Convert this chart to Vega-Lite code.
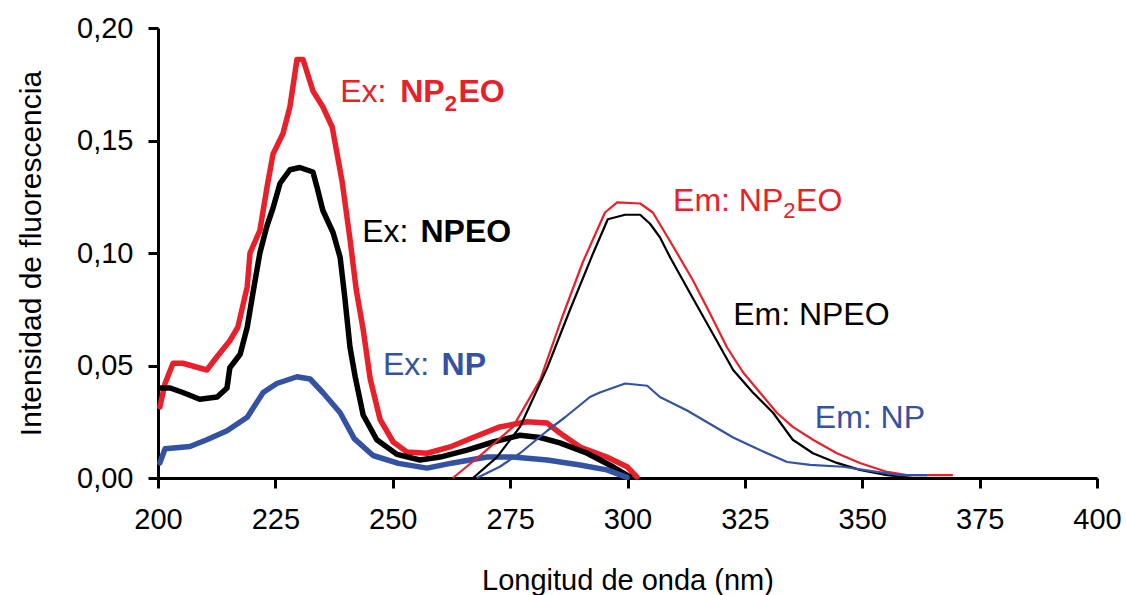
{
  "$schema": "https://vega.github.io/schema/vega-lite/v6.json",
  "width": 939,
  "height": 450,
  "autosize": {"type": "none"},
  "padding": {"left": 158, "top": 28, "right": 29, "bottom": 117},
  "background": "white",
  "config": {"view": {"stroke": null}, "font": "Liberation Sans"},
  "datasets": {
    "spectra": [
      {"band": "Ex", "compound": "NP2EO", "wl": 200.4, "value": 0.0316},
      {"band": "Ex", "compound": "NP2EO", "wl": 201.5, "value": 0.042},
      {"band": "Ex", "compound": "NP2EO", "wl": 203.2, "value": 0.051},
      {"band": "Ex", "compound": "NP2EO", "wl": 205.3, "value": 0.051},
      {"band": "Ex", "compound": "NP2EO", "wl": 210.4, "value": 0.048},
      {"band": "Ex", "compound": "NP2EO", "wl": 212.6, "value": 0.054},
      {"band": "Ex", "compound": "NP2EO", "wl": 215.3, "value": 0.061},
      {"band": "Ex", "compound": "NP2EO", "wl": 217.0, "value": 0.067},
      {"band": "Ex", "compound": "NP2EO", "wl": 219.0, "value": 0.085},
      {"band": "Ex", "compound": "NP2EO", "wl": 219.6, "value": 0.100},
      {"band": "Ex", "compound": "NP2EO", "wl": 221.7, "value": 0.110},
      {"band": "Ex", "compound": "NP2EO", "wl": 223.2, "value": 0.129},
      {"band": "Ex", "compound": "NP2EO", "wl": 224.5, "value": 0.144},
      {"band": "Ex", "compound": "NP2EO", "wl": 226.6, "value": 0.153},
      {"band": "Ex", "compound": "NP2EO", "wl": 228.1, "value": 0.165},
      {"band": "Ex", "compound": "NP2EO", "wl": 229.6, "value": 0.186},
      {"band": "Ex", "compound": "NP2EO", "wl": 230.9, "value": 0.186},
      {"band": "Ex", "compound": "NP2EO", "wl": 233.0, "value": 0.172},
      {"band": "Ex", "compound": "NP2EO", "wl": 235.1, "value": 0.165},
      {"band": "Ex", "compound": "NP2EO", "wl": 237.1, "value": 0.156},
      {"band": "Ex", "compound": "NP2EO", "wl": 239.2, "value": 0.132},
      {"band": "Ex", "compound": "NP2EO", "wl": 240.9, "value": 0.106},
      {"band": "Ex", "compound": "NP2EO", "wl": 242.2, "value": 0.084},
      {"band": "Ex", "compound": "NP2EO", "wl": 243.7, "value": 0.066},
      {"band": "Ex", "compound": "NP2EO", "wl": 245.2, "value": 0.044},
      {"band": "Ex", "compound": "NP2EO", "wl": 247.3, "value": 0.026},
      {"band": "Ex", "compound": "NP2EO", "wl": 250.1, "value": 0.016},
      {"band": "Ex", "compound": "NP2EO", "wl": 253.0, "value": 0.0116},
      {"band": "Ex", "compound": "NP2EO", "wl": 257.3, "value": 0.011},
      {"band": "Ex", "compound": "NP2EO", "wl": 262.2, "value": 0.0138},
      {"band": "Ex", "compound": "NP2EO", "wl": 267.1, "value": 0.018},
      {"band": "Ex", "compound": "NP2EO", "wl": 272.8, "value": 0.0227},
      {"band": "Ex", "compound": "NP2EO", "wl": 278.6, "value": 0.025},
      {"band": "Ex", "compound": "NP2EO", "wl": 282.9, "value": 0.0244},
      {"band": "Ex", "compound": "NP2EO", "wl": 285.6, "value": 0.020},
      {"band": "Ex", "compound": "NP2EO", "wl": 289.9, "value": 0.0138},
      {"band": "Ex", "compound": "NP2EO", "wl": 295.6, "value": 0.0093},
      {"band": "Ex", "compound": "NP2EO", "wl": 299.9, "value": 0.005},
      {"band": "Ex", "compound": "NP2EO", "wl": 302.0, "value": 0.0005},

      {"band": "Ex", "compound": "NPEO", "wl": 200.4, "value": 0.040},
      {"band": "Ex", "compound": "NPEO", "wl": 202.6, "value": 0.040},
      {"band": "Ex", "compound": "NPEO", "wl": 205.3, "value": 0.038},
      {"band": "Ex", "compound": "NPEO", "wl": 208.9, "value": 0.035},
      {"band": "Ex", "compound": "NPEO", "wl": 212.6, "value": 0.036},
      {"band": "Ex", "compound": "NPEO", "wl": 214.7, "value": 0.040},
      {"band": "Ex", "compound": "NPEO", "wl": 215.3, "value": 0.049},
      {"band": "Ex", "compound": "NPEO", "wl": 217.5, "value": 0.055},
      {"band": "Ex", "compound": "NPEO", "wl": 219.0, "value": 0.067},
      {"band": "Ex", "compound": "NPEO", "wl": 220.2, "value": 0.082},
      {"band": "Ex", "compound": "NPEO", "wl": 221.7, "value": 0.100},
      {"band": "Ex", "compound": "NPEO", "wl": 223.2, "value": 0.112},
      {"band": "Ex", "compound": "NPEO", "wl": 224.5, "value": 0.120},
      {"band": "Ex", "compound": "NPEO", "wl": 226.0, "value": 0.131},
      {"band": "Ex", "compound": "NPEO", "wl": 228.1, "value": 0.137},
      {"band": "Ex", "compound": "NPEO", "wl": 230.2, "value": 0.138},
      {"band": "Ex", "compound": "NPEO", "wl": 233.0, "value": 0.136},
      {"band": "Ex", "compound": "NPEO", "wl": 233.9, "value": 0.129},
      {"band": "Ex", "compound": "NPEO", "wl": 235.1, "value": 0.119},
      {"band": "Ex", "compound": "NPEO", "wl": 237.3, "value": 0.109},
      {"band": "Ex", "compound": "NPEO", "wl": 238.8, "value": 0.098},
      {"band": "Ex", "compound": "NPEO", "wl": 239.8, "value": 0.080},
      {"band": "Ex", "compound": "NPEO", "wl": 240.9, "value": 0.058},
      {"band": "Ex", "compound": "NPEO", "wl": 242.0, "value": 0.045},
      {"band": "Ex", "compound": "NPEO", "wl": 243.7, "value": 0.028},
      {"band": "Ex", "compound": "NPEO", "wl": 246.6, "value": 0.017},
      {"band": "Ex", "compound": "NPEO", "wl": 250.9, "value": 0.0105},
      {"band": "Ex", "compound": "NPEO", "wl": 255.8, "value": 0.008},
      {"band": "Ex", "compound": "NPEO", "wl": 260.1, "value": 0.0093},
      {"band": "Ex", "compound": "NPEO", "wl": 265.8, "value": 0.0124},
      {"band": "Ex", "compound": "NPEO", "wl": 271.4, "value": 0.016},
      {"band": "Ex", "compound": "NPEO", "wl": 277.1, "value": 0.019},
      {"band": "Ex", "compound": "NPEO", "wl": 281.4, "value": 0.018},
      {"band": "Ex", "compound": "NPEO", "wl": 285.6, "value": 0.0156},
      {"band": "Ex", "compound": "NPEO", "wl": 291.4, "value": 0.011},
      {"band": "Ex", "compound": "NPEO", "wl": 296.9, "value": 0.005},
      {"band": "Ex", "compound": "NPEO", "wl": 300.5, "value": 0.0005},

      {"band": "Ex", "compound": "NP", "wl": 200.4, "value": 0.0067},
      {"band": "Ex", "compound": "NP", "wl": 201.5, "value": 0.013},
      {"band": "Ex", "compound": "NP", "wl": 206.8, "value": 0.014},
      {"band": "Ex", "compound": "NP", "wl": 210.4, "value": 0.017},
      {"band": "Ex", "compound": "NP", "wl": 214.7, "value": 0.021},
      {"band": "Ex", "compound": "NP", "wl": 219.0, "value": 0.027},
      {"band": "Ex", "compound": "NP", "wl": 222.4, "value": 0.038},
      {"band": "Ex", "compound": "NP", "wl": 225.3, "value": 0.042},
      {"band": "Ex", "compound": "NP", "wl": 229.6, "value": 0.045},
      {"band": "Ex", "compound": "NP", "wl": 232.4, "value": 0.044},
      {"band": "Ex", "compound": "NP", "wl": 235.1, "value": 0.038},
      {"band": "Ex", "compound": "NP", "wl": 238.8, "value": 0.029},
      {"band": "Ex", "compound": "NP", "wl": 241.8, "value": 0.0175},
      {"band": "Ex", "compound": "NP", "wl": 245.8, "value": 0.010},
      {"band": "Ex", "compound": "NP", "wl": 251.2, "value": 0.0065},
      {"band": "Ex", "compound": "NP", "wl": 257.3, "value": 0.0044},
      {"band": "Ex", "compound": "NP", "wl": 262.8, "value": 0.0067},
      {"band": "Ex", "compound": "NP", "wl": 270.1, "value": 0.0093},
      {"band": "Ex", "compound": "NP", "wl": 275.6, "value": 0.0093},
      {"band": "Ex", "compound": "NP", "wl": 282.9, "value": 0.008},
      {"band": "Ex", "compound": "NP", "wl": 289.9, "value": 0.0058},
      {"band": "Ex", "compound": "NP", "wl": 295.6, "value": 0.0036},
      {"band": "Ex", "compound": "NP", "wl": 299.9, "value": 0.0003},

      {"band": "Em", "compound": "NP2EO", "wl": 262.8, "value": 0.0},
      {"band": "Em", "compound": "NP2EO", "wl": 269.2, "value": 0.011},
      {"band": "Em", "compound": "NP2EO", "wl": 275.6, "value": 0.0227},
      {"band": "Em", "compound": "NP2EO", "wl": 281.4, "value": 0.0436},
      {"band": "Em", "compound": "NP2EO", "wl": 286.0, "value": 0.071},
      {"band": "Em", "compound": "NP2EO", "wl": 290.5, "value": 0.096},
      {"band": "Em", "compound": "NP2EO", "wl": 295.2, "value": 0.118},
      {"band": "Em", "compound": "NP2EO", "wl": 297.8, "value": 0.1225},
      {"band": "Em", "compound": "NP2EO", "wl": 302.7, "value": 0.122},
      {"band": "Em", "compound": "NP2EO", "wl": 305.4, "value": 0.118},
      {"band": "Em", "compound": "NP2EO", "wl": 309.7, "value": 0.103},
      {"band": "Em", "compound": "NP2EO", "wl": 313.9, "value": 0.088},
      {"band": "Em", "compound": "NP2EO", "wl": 317.6, "value": 0.073},
      {"band": "Em", "compound": "NP2EO", "wl": 321.2, "value": 0.058},
      {"band": "Em", "compound": "NP2EO", "wl": 324.6, "value": 0.047},
      {"band": "Em", "compound": "NP2EO", "wl": 328.2, "value": 0.038},
      {"band": "Em", "compound": "NP2EO", "wl": 331.8, "value": 0.029},
      {"band": "Em", "compound": "NP2EO", "wl": 335.2, "value": 0.0227},
      {"band": "Em", "compound": "NP2EO", "wl": 339.5, "value": 0.017},
      {"band": "Em", "compound": "NP2EO", "wl": 344.6, "value": 0.011},
      {"band": "Em", "compound": "NP2EO", "wl": 349.5, "value": 0.0067},
      {"band": "Em", "compound": "NP2EO", "wl": 355.3, "value": 0.0027},
      {"band": "Em", "compound": "NP2EO", "wl": 359.5, "value": 0.0013},
      {"band": "Em", "compound": "NP2EO", "wl": 369.3, "value": 0.0013},

      {"band": "Em", "compound": "NPEO", "wl": 267.1, "value": 0.0},
      {"band": "Em", "compound": "NPEO", "wl": 272.2, "value": 0.0093},
      {"band": "Em", "compound": "NPEO", "wl": 277.1, "value": 0.0227},
      {"band": "Em", "compound": "NPEO", "wl": 282.9, "value": 0.049},
      {"band": "Em", "compound": "NPEO", "wl": 287.8, "value": 0.075},
      {"band": "Em", "compound": "NPEO", "wl": 292.7, "value": 0.100},
      {"band": "Em", "compound": "NPEO", "wl": 295.8, "value": 0.115},
      {"band": "Em", "compound": "NPEO", "wl": 299.5, "value": 0.117},
      {"band": "Em", "compound": "NPEO", "wl": 302.7, "value": 0.117},
      {"band": "Em", "compound": "NPEO", "wl": 304.8, "value": 0.113},
      {"band": "Em", "compound": "NPEO", "wl": 306.9, "value": 0.107},
      {"band": "Em", "compound": "NPEO", "wl": 309.1, "value": 0.098},
      {"band": "Em", "compound": "NPEO", "wl": 313.9, "value": 0.080},
      {"band": "Em", "compound": "NPEO", "wl": 318.2, "value": 0.064},
      {"band": "Em", "compound": "NPEO", "wl": 322.5, "value": 0.048},
      {"band": "Em", "compound": "NPEO", "wl": 326.7, "value": 0.038},
      {"band": "Em", "compound": "NPEO", "wl": 331.0, "value": 0.029},
      {"band": "Em", "compound": "NPEO", "wl": 335.2, "value": 0.017},
      {"band": "Em", "compound": "NPEO", "wl": 339.5, "value": 0.011},
      {"band": "Em", "compound": "NPEO", "wl": 344.6, "value": 0.0067},
      {"band": "Em", "compound": "NPEO", "wl": 349.5, "value": 0.0036},
      {"band": "Em", "compound": "NPEO", "wl": 355.3, "value": 0.0013},
      {"band": "Em", "compound": "NPEO", "wl": 360.8, "value": 0.0},

      {"band": "Em", "compound": "NP", "wl": 267.9, "value": 0.0},
      {"band": "Em", "compound": "NP", "wl": 272.8, "value": 0.005},
      {"band": "Em", "compound": "NP", "wl": 277.1, "value": 0.011},
      {"band": "Em", "compound": "NP", "wl": 282.9, "value": 0.021},
      {"band": "Em", "compound": "NP", "wl": 286.7, "value": 0.027},
      {"band": "Em", "compound": "NP", "wl": 292.0, "value": 0.036},
      {"band": "Em", "compound": "NP", "wl": 294.1, "value": 0.038},
      {"band": "Em", "compound": "NP", "wl": 299.5, "value": 0.042},
      {"band": "Em", "compound": "NP", "wl": 304.2, "value": 0.041},
      {"band": "Em", "compound": "NP", "wl": 306.9, "value": 0.036},
      {"band": "Em", "compound": "NP", "wl": 312.7, "value": 0.030},
      {"band": "Em", "compound": "NP", "wl": 317.6, "value": 0.024},
      {"band": "Em", "compound": "NP", "wl": 322.5, "value": 0.018},
      {"band": "Em", "compound": "NP", "wl": 328.2, "value": 0.0124},
      {"band": "Em", "compound": "NP", "wl": 334.0, "value": 0.0071},
      {"band": "Em", "compound": "NP", "wl": 338.9, "value": 0.0058},
      {"band": "Em", "compound": "NP", "wl": 345.9, "value": 0.005},
      {"band": "Em", "compound": "NP", "wl": 353.1, "value": 0.0027},
      {"band": "Em", "compound": "NP", "wl": 358.0, "value": 0.0013},
      {"band": "Em", "compound": "NP", "wl": 363.8, "value": 0.0013}
    ],
    "labels": [
      {"band": "Ex", "compound": "NP2EO", "role": "prefix", "text": "Ex:", "wl": 238.8, "value": 0.1671},
      {"band": "Ex", "compound": "NP2EO", "role": "name", "text": "NP", "wl": 251.6, "value": 0.1671},
      {"band": "Ex", "compound": "NP2EO", "role": "sub", "text": "2", "wl": 261.1, "value": 0.1631},
      {"band": "Ex", "compound": "NP2EO", "role": "name", "text": "EO", "wl": 264.0, "value": 0.1671},
      {"band": "Ex", "compound": "NPEO", "role": "prefix", "text": "Ex:", "wl": 243.5, "value": 0.1049},
      {"band": "Ex", "compound": "NPEO", "role": "name", "text": "NPEO", "wl": 255.9, "value": 0.1049},
      {"band": "Ex", "compound": "NP", "role": "prefix", "text": "Ex:", "wl": 247.9, "value": 0.0458},
      {"band": "Ex", "compound": "NP", "role": "name", "text": "NP", "wl": 260.4, "value": 0.0458},
      {"band": "Em", "compound": "NP2EO", "role": "name", "text": "Em: NP", "wl": 309.7, "value": 0.1187},
      {"band": "Em", "compound": "NP2EO", "role": "sub", "text": "2", "wl": 333.2, "value": 0.1156},
      {"band": "Em", "compound": "NP2EO", "role": "name", "text": "EO", "wl": 335.9, "value": 0.1187},
      {"band": "Em", "compound": "NPEO", "role": "name", "text": "Em: NPEO", "wl": 322.5, "value": 0.0680},
      {"band": "Em", "compound": "NP", "role": "name", "text": "Em: NP", "wl": 339.9, "value": 0.0222}
    ]
  },
  "encoding": {
    "x": {
      "field": "wl",
      "type": "quantitative",
      "title": "Longitud de onda (nm)",
      "scale": {"domain": [200, 400], "nice": false, "zero": false},
      "axis": {
        "values": [200, 225, 250, 275, 300, 325, 350, 375, 400],
        "format": "d",
        "grid": false,
        "labelFlush": false,
        "labelOverlap": false,
        "labelFontSize": 29,
        "labelColor": "black",
        "labelPadding": 17,
        "tickSize": 10,
        "tickWidth": 3,
        "tickColor": "black",
        "domainColor": "black",
        "domainWidth": 3,
        "titleFontSize": 29,
        "titleFontWeight": "normal",
        "titleColor": "black",
        "titleBaseline": "alphabetic",
        "titleY": 111
      }
    },
    "y": {
      "field": "value",
      "type": "quantitative",
      "title": "Intensidad de fluorescencia",
      "scale": {"domain": [0, 0.2], "nice": false},
      "axis": {
        "values": [0, 0.05, 0.1, 0.15, 0.2],
        "labelExpr": "replace(format(datum.value, '.2f'), '.', ',')",
        "grid": false,
        "labelFontSize": 29,
        "labelColor": "black",
        "labelPadding": 15,
        "tickSize": 10,
        "tickWidth": 3,
        "tickColor": "black",
        "domainColor": "black",
        "domainWidth": 3,
        "titleFontSize": 30,
        "titleFontWeight": "normal",
        "titleColor": "black",
        "titleAngle": -90,
        "titleAlign": "center",
        "titleBaseline": "alphabetic",
        "titleX": -118,
        "titleY": 225
      }
    },
    "color": {
      "field": "compound",
      "type": "nominal",
      "scale": {"domain": ["NP", "NPEO", "NP2EO"], "range": ["#3452A4", "#000000", "#E8202A"]},
      "legend": null
    }
  },
  "layer": [
    {
      "data": {"name": "spectra"},
      "transform": [{"filter": "datum.band == 'Ex'"}],
      "mark": {"type": "line", "strokeWidth": 5.5, "strokeJoin": "round", "strokeCap": "round"}
    },
    {
      "data": {"name": "spectra"},
      "transform": [{"filter": "datum.band == 'Em'"}],
      "mark": {"type": "line", "strokeWidth": 2.2, "strokeJoin": "round"}
    },
    {
      "data": {"name": "labels"},
      "transform": [{"filter": "(datum.role == 'prefix' || datum.band == 'Em') && datum.role != 'sub'"}],
      "mark": {"type": "text", "align": "left", "baseline": "alphabetic", "fontSize": 32, "fontWeight": "normal"},
      "encoding": {"text": {"field": "text"}}
    },
    {
      "data": {"name": "labels"},
      "transform": [{"filter": "datum.band == 'Ex' && datum.role == 'name'"}],
      "mark": {"type": "text", "align": "left", "baseline": "alphabetic", "fontSize": 32, "fontWeight": "bold"},
      "encoding": {"text": {"field": "text"}}
    },
    {
      "data": {"name": "labels"},
      "transform": [{"filter": "datum.role == 'sub' && datum.band == 'Em'"}],
      "mark": {"type": "text", "align": "left", "baseline": "alphabetic", "fontSize": 22, "fontWeight": "normal"},
      "encoding": {"text": {"field": "text"}}
    },
    {
      "data": {"name": "labels"},
      "transform": [{"filter": "datum.role == 'sub' && datum.band == 'Ex'"}],
      "mark": {"type": "text", "align": "left", "baseline": "alphabetic", "fontSize": 22, "fontWeight": "bold"},
      "encoding": {"text": {"field": "text"}}
    }
  ]
}
